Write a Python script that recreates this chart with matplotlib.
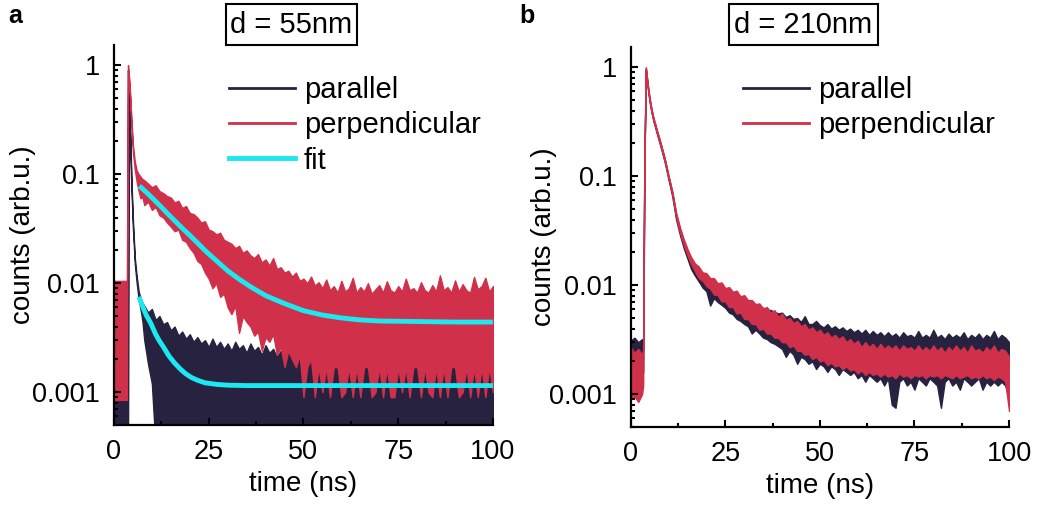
import numpy as np
import matplotlib
matplotlib.use('Agg')
import matplotlib.pyplot as plt
from matplotlib.lines import Line2D
from matplotlib.patches import Rectangle
from matplotlib.ticker import MultipleLocator, LogLocator, NullFormatter

plt.rcParams['font.family'] = ['Liberation Sans', 'DejaVu Sans']

# ---- panel a (d = 55nm), counts x 1e-3, upper / lower edge of the noisy trace
t_a = np.concatenate([[0, 1, 2, 3, 3.4, 3.7, 4.0, 4.3, 4.6, 5.0, 5.5, 6.0, 6.5, 7.0, 7.5],
                      np.arange(8, 101)])
perp_hi_a = [10.5, 10.5, 10.5, 10.5, 10.5, 1000, 760, 520, 320, 185, 130, 108, 100, 95, 90,
             88, 82, 76, 79, 70, 67, 63, 61, 55, 57,
             49, 51, 44, 43, 40, 36, 37, 31, 30, 28,
             29, 25, 24, 23, 21, 22, 19, 20, 18, 17,
             18.5, 15.5, 16.5, 14.5, 17, 13.5, 14, 12.5, 13, 11.5,
             12.5, 10.5, 11, 10, 11.5, 9.5, 10.2, 9, 10.8, 8.6,
             9.4, 8.2, 10.5, 8.4, 9, 11.2, 8.2, 9.2, 8.4, 10,
             8, 8.8, 9.6, 8.2, 10.4, 8.6, 8.2, 9.4, 8.4, 11,
             8.6, 9, 8.2, 10.2, 8.6, 8.2, 9.6, 8.4, 11.8, 8.6,
             9.2, 8.2, 10.6, 8.4, 9.8, 8.6, 8.2, 11.4, 8.8, 9.4,
             11.2, 8.4, 9.4]
perp_lo_a = [0.85, 0.85, 0.85, 0.85, 0.85, 900, 700, 470, 280, 160, 110, 85, 70, 60, 62,
             52, 56, 47, 50, 42, 40, 36, 33, 30, 31,
             25, 24, 21, 19, 16, 15, 12.5, 11, 9, 10,
             7.5, 8, 6.0, 5.2, 6.2, 3.5, 5.0, 4.4, 4.0, 3.3,
             3.6, 2.4, 3.2, 2.9, 3.4, 2.2, 2.6, 1.7, 2.4, 2.0,
             1.7, 2.2, 0.9, 1.7, 2.0, 0.9, 1.7, 1.0, 1.7, 0.9,
             1.7, 1.7, 0.9, 1.0, 1.7, 0.9, 1.7, 0.9, 1.7, 1.7,
             0.9, 1.0, 1.7, 0.9, 1.7, 0.9, 0.9, 1.7, 1.0, 1.7,
             0.9, 1.7, 1.7, 0.9, 1.7, 1.0, 0.9, 1.7, 0.9, 1.7,
             0.9, 1.7, 1.7, 0.9, 1.0, 1.7, 0.9, 1.7, 0.9, 1.7,
             0.9, 1.7, 1.0]
par_hi_a = [1.7, 1.7, 1.7, 1.7, 1.7, 900, 420, 230, 90, 38, 17, 11.5, 8.5, 7.2, 6.6,
            6.2, 5.4, 5.8, 4.6, 5.0, 4.2, 4.4, 3.7, 4.0, 3.3,
            3.6, 3.1, 3.4, 2.9, 3.2, 2.8, 3.0, 2.6, 3.1, 2.6,
            2.9, 2.5, 2.8, 2.4, 2.9, 2.5, 2.7, 2.3, 2.8, 2.4,
            2.6, 2.2, 2.7, 2.3, 2.5, 2.1, 2.4, 2.0, 2.5, 2.1,
            2.3, 1.9, 2.4, 1.8, 2.2, 1.8, 2.1, 1.7, 2.0, 1.7,
            2.2, 1.7, 1.7, 2.5, 1.7, 1.7, 2.0, 1.7, 1.7, 2.6,
            1.7, 1.7, 1.7, 2.2, 1.7, 1.7, 1.7, 2.0, 1.7, 1.7,
            2.6, 1.7, 1.7, 1.7, 2.1, 1.7, 1.7, 1.7, 2.4, 1.7,
            1.7, 1.7, 2.0, 1.7, 1.7, 2.5, 1.7, 1.7, 1.7, 2.2,
            1.7, 1.7, 1.7]
par_lo_a = [0.3, 0.3, 0.3, 0.3, 0.3, 0.3, 380, 200, 75, 32, 15, 10, 7.2, 5.8, 4.5,
            3.0, 1.8, 1.2] + [0.3] * 90

fit_perp_t = [6.7, 8, 10, 12, 14, 16, 18, 20, 22, 24, 26, 28, 30, 33, 36, 40, 45, 50,
              55, 60, 65, 70, 80, 90, 100]
fit_perp = [78, 71, 61, 52, 44, 37.5, 32, 27.5, 23.5, 20, 17.3, 15, 13, 10.9, 9.3, 7.7,
            6.5, 5.6, 5.1, 4.8, 4.6, 4.5, 4.45, 4.4, 4.4]
fit_par_t = [6.6, 7.5, 8.5, 9.7, 11, 12, 13.2, 14.5, 16, 17.6, 19, 20.5, 22, 24, 27, 30,
             35, 40, 50, 60, 80, 100]
fit_par = [7.5, 6.2, 5.1, 4.3, 3.4, 2.95, 2.55, 2.15, 1.85, 1.62, 1.47, 1.36, 1.29, 1.22,
           1.18, 1.16, 1.15, 1.15, 1.15, 1.15, 1.15, 1.15]

# ---- panel b (d = 210nm)
t_b = np.concatenate([[0, 1, 2, 3, 3.3, 3.6, 4.0, 4.5, 5.0, 5.5, 6.0, 6.5, 7.0, 7.5],
                      np.arange(8, 101)])
perp_hi_b = [2.7, 2.4, 2.6, 2.3, 2.6, 130, 1000, 700, 520, 415, 345, 300, 258, 226,
             196, 145, 101, 72, 46, 34, 26.5, 21.5, 18, 15.8,
             14.8, 13.1, 12.9, 11.6, 11.6, 10.4, 10.6, 9.4, 9.6, 8.7,
             8.9, 7.9, 8.1, 7.3, 7.3, 6.7, 6.8, 6.1, 6.3, 5.6,
             5.9, 5.1, 5.5, 4.8, 5.0, 4.5, 4.7, 4.2, 4.4, 3.9,
             4.1, 3.7, 3.9, 3.5, 3.7, 3.3, 3.5, 3.2, 3.4, 3.0,
             3.2, 2.9, 3.1, 2.7, 3.0, 2.7, 2.9, 2.6, 2.9, 2.6,
             2.8, 2.6, 2.8, 2.5, 2.8, 2.6, 2.7, 2.5, 2.8, 2.5,
             2.7, 2.5, 2.8, 2.5, 2.7, 2.4, 2.7, 2.5, 2.8, 2.5,
             2.7, 2.4, 2.8, 2.5, 2.6, 2.4, 2.7, 2.5, 2.8, 2.4,
             2.6, 2.5, 2.2]
perp_lo_b = [0.9, 0.95, 0.85, 1.0, 1.2, 110, 960, 660, 490, 390, 325, 282, 243, 212,
             184, 136, 95, 67, 42, 30.5, 23.5, 18.8, 15.5, 13.4,
             11.6, 11.0, 9.8, 9.3, 8.2, 8.1, 7.1, 7.1, 6.3, 6.3,
             5.5, 5.6, 4.9, 4.9, 4.4, 4.4, 3.9, 4.0, 3.6, 3.6,
             3.3, 3.3, 3.0, 3.0, 2.7, 2.8, 2.5, 2.5, 2.3, 2.35,
             2.1, 2.2, 2.0, 2.05, 1.85, 1.95, 1.8, 1.85, 1.7, 1.8,
             1.65, 1.7, 1.55, 1.65, 1.5, 1.6, 1.5, 1.55, 1.45, 1.55,
             1.45, 1.5, 1.4, 1.55, 1.45, 1.5, 1.4, 1.5, 1.45, 1.5,
             1.4, 1.5, 1.45, 1.5, 1.4, 1.5, 1.45, 1.4, 1.5, 1.4,
             1.45, 1.5, 1.4, 1.45, 1.4, 1.5, 1.4, 1.45, 1.35, 1.45,
             1.4, 1.3, 0.7]
par_hi_b = [3.1, 3.3, 3.0, 3.2, 3.0, 120, 980, 690, 510, 410, 340, 296, 255, 224,
            194, 144, 100, 71, 45, 33, 25.5, 20.5, 17, 15,
            13.6, 12.6, 11.8, 11.2, 10.6, 10.0, 9.5, 9.0, 8.7, 8.3,
            8.0, 7.7, 7.3, 7.0, 6.8, 6.6, 6.3, 6.2, 6.0, 5.9,
            5.7, 5.5, 5.6, 5.1, 5.3, 4.9, 5.0, 4.6, 5.2, 4.4,
            4.4, 4.7, 4.3, 4.1, 4.4, 4.0, 4.2, 3.9, 4.1, 3.8,
            4.0, 3.7, 3.9, 3.6, 3.9, 3.5, 3.8, 3.5, 3.7, 3.4,
            3.7, 3.4, 3.6, 3.3, 3.7, 3.4, 3.5, 3.3, 3.8, 3.3,
            3.5, 3.3, 3.9, 3.3, 3.5, 3.2, 3.6, 3.3, 3.5, 3.3,
            3.7, 3.2, 3.5, 3.3, 3.6, 3.2, 3.5, 3.3, 3.8, 3.2,
            3.5, 3.3, 3.0]
par_lo_b = [1.6, 1.7, 1.5, 1.6, 1.6, 100, 940, 650, 480, 385, 320, 278, 240, 209,
            181, 134, 93, 65, 40, 29, 22, 17.5, 14, 12.2,
            10.8, 9.5, 8.8, 6.5, 7.6, 7.0, 6.6, 6.2, 5.6, 5.4,
            4.9, 4.7, 4.4, 4.2, 3.6, 3.9, 3.6, 3.3, 3.2, 3.0,
            2.9, 2.75, 2.6, 2.2, 2.5, 2.3, 1.9, 2.2, 2.1, 1.9,
            2.0, 1.7, 1.9, 1.8, 1.6, 1.8, 1.7, 1.5, 1.7, 1.6,
            1.5, 1.6, 1.4, 1.5, 1.3, 1.5, 1.4, 1.3, 1.4, 1.2,
            1.4, 0.8, 0.75, 1.3, 1.4, 1.2, 1.3, 1.1, 1.4, 1.3,
            1.2, 1.4, 1.3, 1.2, 0.75, 1.3, 1.4, 1.2, 1.3, 1.1,
            1.4, 1.3, 1.2, 1.3, 1.4, 1.1, 1.3, 1.2, 1.3, 1.2,
            1.3, 1.2, 0.9]

DARK = '#282241'
RED = '#d0304a'
CYAN = '#1ce8f0'
FS = 20


def band(ax, t, lo, hi, color):
    ax.fill_between(t, np.array(lo) * 1e-3, np.array(hi) * 1e-3,
                    facecolor=color, edgecolor=color, linewidth=1.0)


def style(ax, ylab_x):
    ax.set_yscale('log')
    ax.set_xlim(0, 100)
    ax.set_ylim(5e-4, 1.53)
    ax.spines['top'].set_visible(False)
    ax.spines['right'].set_visible(False)
    for s in ('left', 'bottom'):
        ax.spines[s].set_linewidth(1.6)
    ax.set_xticks([0, 25, 50, 75, 100])
    ax.xaxis.set_minor_locator(MultipleLocator(12.5))
    ax.set_yticks([1e-3, 1e-2, 1e-1, 1])
    ax.set_yticklabels(['0.001', '0.01', '0.1', '1'])
    ax.yaxis.set_minor_locator(LogLocator(base=10, subs=np.arange(2, 10)))
    ax.yaxis.set_minor_formatter(NullFormatter())
    ax.tick_params(which='both', direction='in', width=1.5, labelsize=19.5)
    ax.tick_params(which='major', length=5)
    ax.tick_params(which='minor', length=3)
    ax.tick_params(axis='x', pad=10)
    ax.tick_params(axis='y', pad=10)
    ax.set_xlabel('time (ns)', fontsize=FS)
    ax.set_ylabel('counts (arb.u.)', fontsize=FS)
    ax.xaxis.set_label_coords(0.5, -0.12)
    ax.yaxis.set_label_coords(ylab_x, 0.5)


fig = plt.figure(figsize=(10.38, 5.07), dpi=100)
ax_a = fig.add_axes([0.1098, 0.1617, 0.3651, 0.7495])
ax_b = fig.add_axes([0.6076, 0.1578, 0.3645, 0.7495])

band(ax_a, t_a, par_lo_a, par_hi_a, DARK)
band(ax_a, t_a, perp_lo_a, perp_hi_a, RED)
ax_a.plot(fit_perp_t, np.array(fit_perp) * 1e-3, color=CYAN, lw=3.5, solid_capstyle='butt')
ax_a.plot(fit_par_t, np.array(fit_par) * 1e-3, color=CYAN, lw=3.5, solid_capstyle='butt')
style(ax_a, -0.205)

band(ax_b, t_b, par_lo_b, par_hi_b, DARK)
band(ax_b, t_b, perp_lo_b, perp_hi_b, RED)
style(ax_b, -0.195)

handles_a = [Line2D([], [], color=DARK, lw=2), Line2D([], [], color=RED, lw=2),
             Line2D([], [], color=CYAN, lw=3.5)]
leg_kw = dict(loc='upper left', bbox_transform=fig.transFigure, frameon=False,
              fontsize=21, handlelength=2.26, handletextpad=0.3,
              labelspacing=0.25, borderpad=0, borderaxespad=0)
ax_a.legend(handles_a, ['parallel', 'perpendicular', 'fit'],
            bbox_to_anchor=(0.2206, 0.850), **leg_kw)
ax_b.legend(handles_a[:2], ['parallel', 'perpendicular'],
            bbox_to_anchor=(0.7158, 0.850), **leg_kw)

# boxed titles
for x0, w in [(226, 131), (729, 149)]:
    fig.patches.append(Rectangle((x0 / 1038, 1 - 45 / 507), w / 1038, 41 / 507,
                                 transform=fig.transFigure, fill=False,
                                 ec='black', lw=1.5))
fig.text(0.2803, 0.9507, 'd = 55nm', fontsize=21, ha='center', va='center')
fig.text(0.7741, 0.9507, 'd = 210nm', fontsize=21, ha='center', va='center')
fig.text(0.008, 0.9546, 'a', fontsize=18, fontweight='bold', va='baseline')
fig.text(0.500, 0.9546, 'b', fontsize=18, fontweight='bold', va='baseline')

fig.savefig('out.png', dpi=100)
